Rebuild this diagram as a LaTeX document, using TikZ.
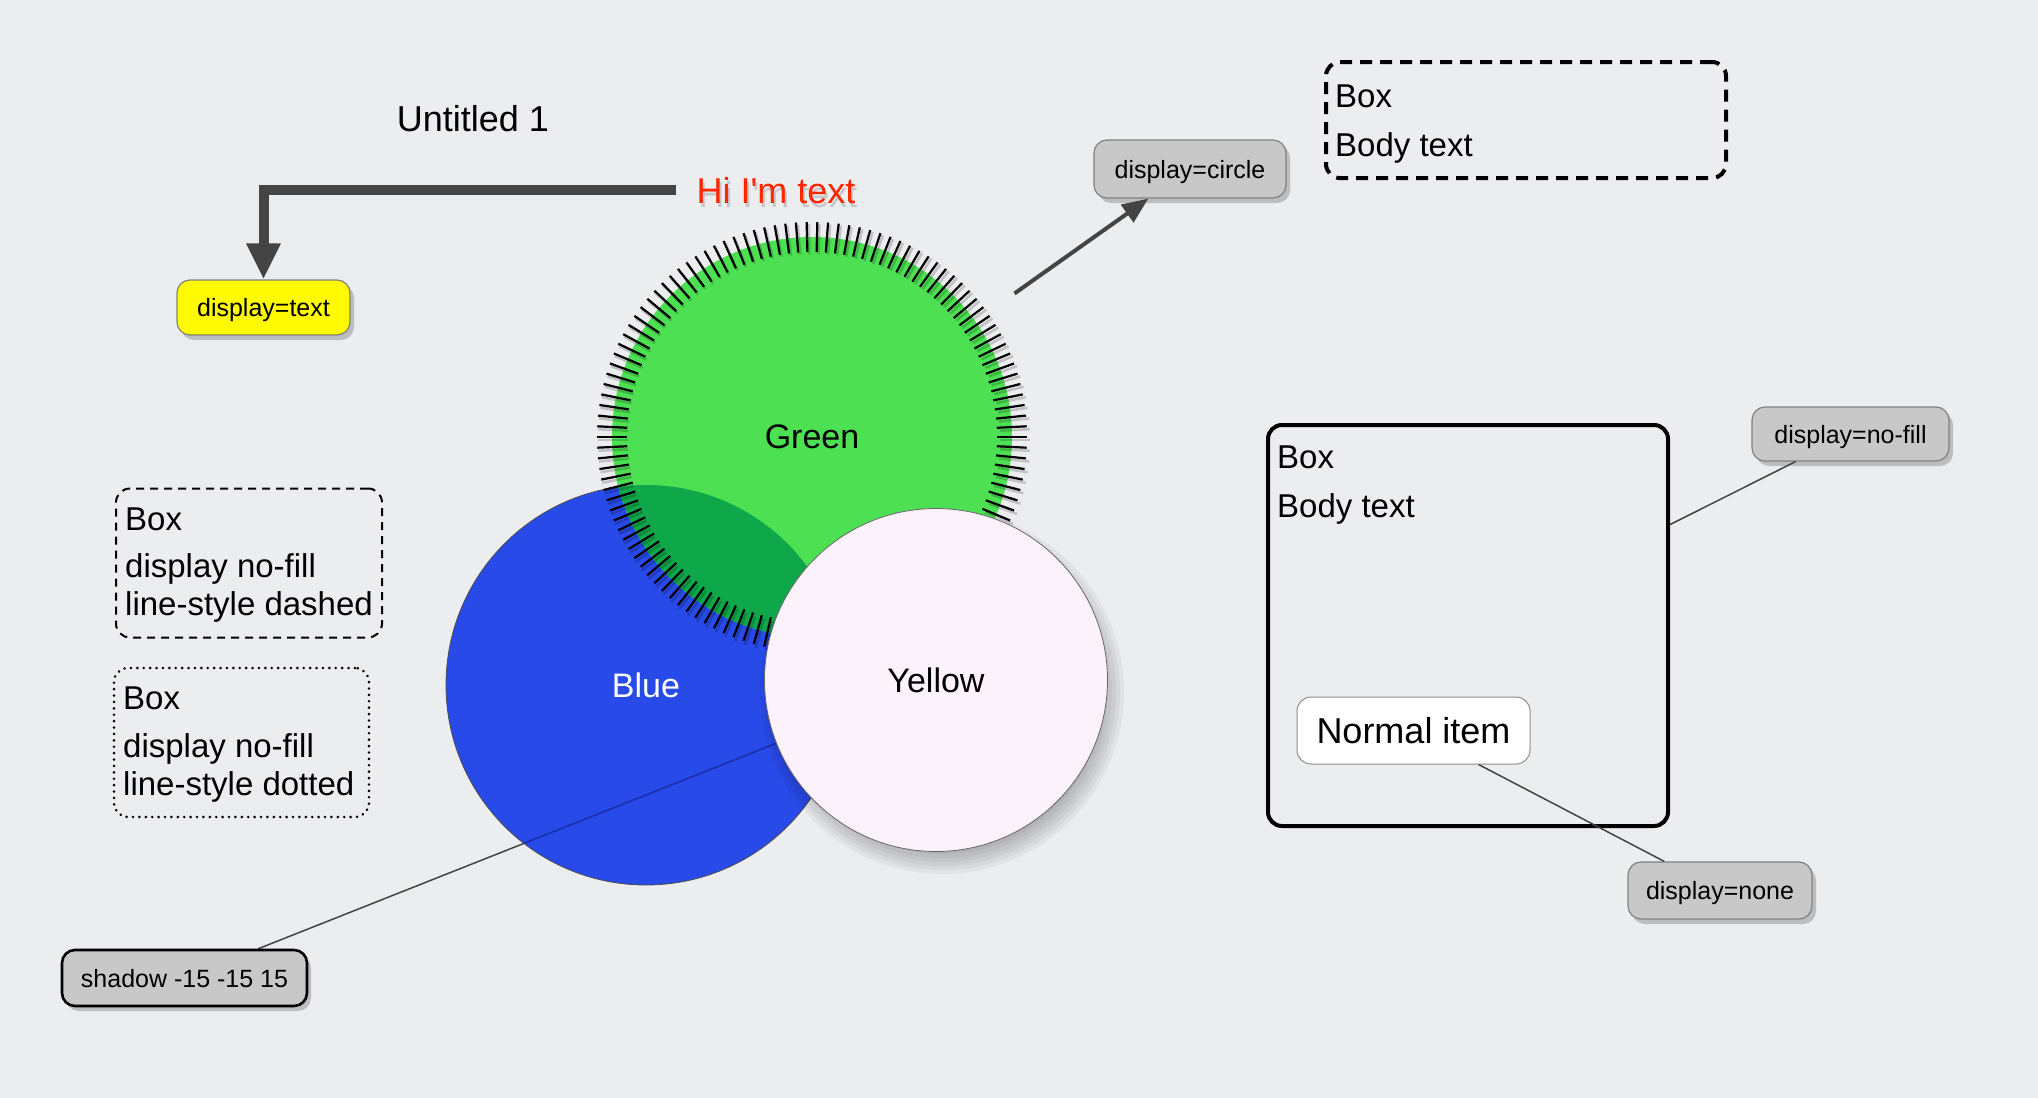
\documentclass[tikz,border=0pt]{standalone}
\usepackage{fontspec}
\setmainfont{Liberation Sans}
\newfontfamily\hifont{Liberation Sans}[Ligatures=TeXOff]
\usetikzlibrary{arrows.meta,shadows,calc}
\definecolor{bgc}{RGB}{236,237,239}
\definecolor{grn}{RGB}{76,224,82}
\definecolor{dgrn}{RGB}{14,168,74}
\definecolor{blu}{RGB}{40,74,232}
\definecolor{dblu}{RGB}{26,46,168}
\definecolor{ylw}{RGB}{252,242,252}
\definecolor{lblgray}{RGB}{200,200,200}
\definecolor{conn}{RGB}{68,68,68}
\definecolor{hired}{RGB}{255,38,0}
\definecolor{yfill}{RGB}{255,250,0}
\pgfdeclarelayer{back}
\pgfdeclarelayer{lines}
\pgfdeclarelayer{circ}
\pgfsetlayers{back,lines,circ,main}
\tikzset{
  lbl/.style={rectangle, rounded corners=13pt, draw=black!50, line width=1.2pt,
    fill=lblgray, inner sep=0pt, text depth=0pt, font=\fontsize{25}{30}\selectfont,
    drop shadow={shadow xshift=4pt, shadow yshift=-5pt, opacity=0.2, fill=black}},
  boxtxt/.style={anchor=base west, inner sep=0pt, font=\fontsize{33}{40}\selectfont},
  frame/.style={rectangle, rounded corners=14pt, inner sep=0pt},
  circlabel/.style={circle, inner sep=0pt, font=\fontsize{34}{40}\selectfont},
  thinconn/.style={draw=conn, line width=1.5pt},
  tickmark/.style={line width=2.2pt, draw=black},
  tickshadow/.style={line width=2.6pt, draw=black, opacity=0.18},
  softshade/.style={fill=black, opacity=0.045},
  hitext/.style={anchor=base, font=\hifont\fontsize{36}{40}\selectfont},
}
\begin{document}
\begin{tikzpicture}[x=1pt,y=-1pt]
\begin{pgfonlayer}{back}
  \fill[bgc] (0,0) rectangle (2038,1098);
\end{pgfonlayer}
\useasboundingbox (0,0) rectangle (2038,1098);

% title
\node[anchor=base, inner sep=0pt, font=\fontsize{36}{40}\selectfont] (title) at (473,131) {Untitled 1};

% circles
\begin{pgfonlayer}{circ}
  \node[circlabel, minimum size=400pt, fill=blu, draw=black!70, line width=0.8pt, text=white] (blue) at (646,685) {Blue};
  \node[circlabel, minimum size=400pt, fill=grn] (green) at (812,437) {Green};
  \begin{scope}
    \clip (blue.center) circle (200pt);
    \fill[dgrn] (green.center) circle (200pt);
  \end{scope}
  \foreach \a in {0,...,125} {
    \draw[tickshadow] ($(green.center)+(\a*2.857143:186)+(2,3)$) -- ($(green.center)+(\a*2.857143:216)+(2,3)$);
  }
  \foreach \a in {0,...,125} {
    \draw[tickmark] ($(green.center)+(\a*2.857143:185)$) -- ($(green.center)+(\a*2.857143:215)$);
  }
\end{pgfonlayer}
% soft shadow of the yellow circle
\foreach \r in {158,162,...,182} {
  \fill[softshade] (942,692) circle (\r pt);
}
\node[circlabel, minimum size=343pt, fill=ylw, draw=black!60, line width=0.8pt] (yellow) at (936,680) {Yellow};

% red text with soft shadow
\node[hitext, inner sep=0pt, text=black, opacity=0.16] (hishadow) at (778,207) {Hi I'm text};
\node[hitext, inner xsep=20pt, inner ysep=0pt, text=hired] (hi) at (776,203) {Hi I'm text};

% labels
\node[lbl, fill=yfill, minimum width=173pt, minimum height=55pt] (disptext) at (263.5,307.5) {display=text};
\node[lbl, minimum width=192pt, minimum height=58pt] (dispcircle) at (1190,169) {display=circle};
\node[lbl, minimum width=197pt, minimum height=54pt] (nofill) at (1850.5,434) {display=no-fill};
\node[lbl, minimum width=184pt, minimum height=57pt] (none) at (1720,890.5) {display=none};
\node[lbl, draw=black, line width=2.6pt, minimum width=245pt, minimum height=56pt] (shadowbox) at (184.5,978) {shadow -15 -15 15};

% boxes
\node[frame, draw=black, line width=4pt, dash pattern=on 12pt off 8pt, minimum width=400pt, minimum height=116pt] (boxtr) at (1526,120) {};
\node[boxtxt] (boxtra) at (1335,107) {Box};
\node[boxtxt] (boxtrb) at (1335,156) {Body text};

\node[frame, draw=black, line width=2pt, dash pattern=on 8pt off 6pt, minimum width=266pt, minimum height=149pt] (boxdash) at (249,563) {};
\node[boxtxt] (bda) at (125,530) {Box};
\node[boxtxt] (bdb) at (125,577) {display no-fill};
\node[boxtxt] (bdc) at (125,615) {line-style dashed};

\node[frame, draw=black, line width=2.8pt, line cap=round, dash pattern=on 0.1pt off 6.3pt, minimum width=255pt, minimum height=149pt] (boxdot) at (241.5,742.5) {};
\node[boxtxt] (bta) at (123,709) {Box};
\node[boxtxt] (btb) at (123,757) {display no-fill};
\node[boxtxt] (btc) at (123,795) {line-style dotted};

\node[frame, draw=black, line width=4pt, minimum width=400pt, minimum height=401pt] (bigbox) at (1468,625.5) {};
\node[boxtxt] (bba) at (1277,468) {Box};
\node[boxtxt] (bbb) at (1277,517) {Body text};
\node[frame, fill=white, draw=black!45, line width=1pt, minimum width=233pt, minimum height=67pt,
  font=\fontsize{36}{40}\selectfont] (normal) at (1413.5,730.5) {Normal item};

% connectors
\draw[draw=conn, line width=10pt, -{Triangle[length=36pt,width=32pt]}] (hi.west) -| (disptext.north);
\draw[draw=conn, line width=4pt, shorten <=48pt, -{Triangle[length=26pt,width=21pt]}] (green) -- (dispcircle);
\draw[thinconn] (nofill) -- (bigbox);
\draw[thinconn] (none) -- (normal);
\begin{pgfonlayer}{lines}
  \draw[thinconn] (shadowbox) -- (yellow);
\end{pgfonlayer}
\begin{pgfonlayer}{circ}
  \begin{scope}
    \clip (blue.center) circle (199.5pt);
    \draw[draw=dblu, line width=1.5pt] (shadowbox) -- (yellow);
  \end{scope}
\end{pgfonlayer}
\end{tikzpicture}
\end{document}
